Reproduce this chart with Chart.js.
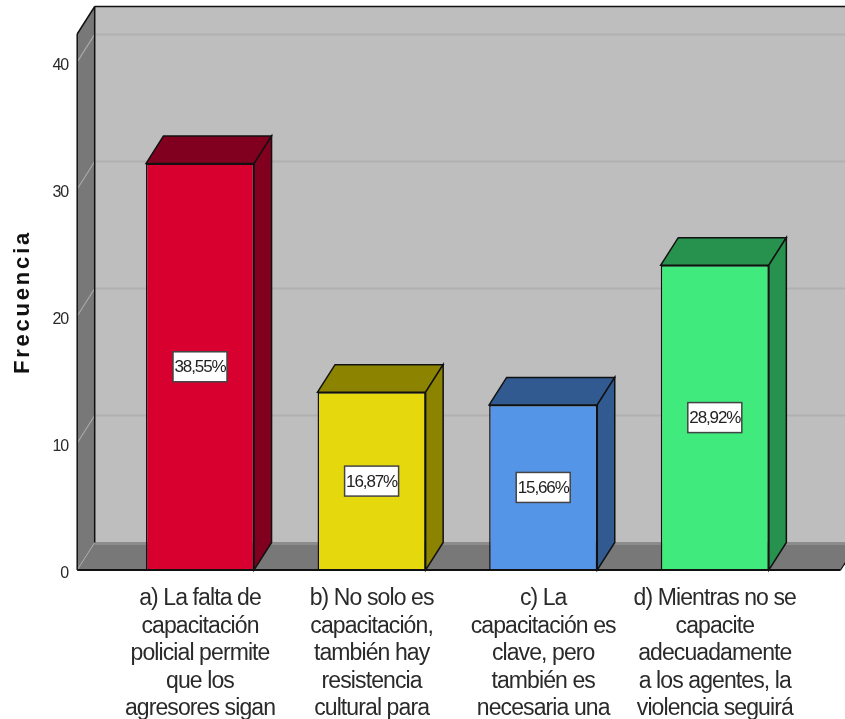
<!DOCTYPE html>
<html><head><meta charset="utf-8">
<style>html,body{margin:0;padding:0;background:#fff}canvas{display:block}</style>
<script src="https://cdn.jsdelivr.net/npm/chart.js@4"></script>
</head><body>
<canvas id="c" width="845" height="719"></canvas>
<script>
const categories = [
  ["a) La falta de","capacitación","policial permite","que los","agresores sigan"],
  ["b) No solo es","capacitación,","también hay","resistencia","cultural para"],
  ["c) La","capacitación es","clave, pero","también es","necesaria una"],
  ["d) Mientras no se","capacite","adecuadamente","a los agentes, la","violencia seguirá"]
];
const frecuencia = [32, 14, 13, 24];
const porcentajes = ["38,55%", "16,87%", "15,66%", "28,92%"];
const frontColors = ["#D7002F", "#E5D90E", "#5595E8", "#41EA7D"];
const depthColors = ["#82001F", "#8C8400", "#305A90", "#27914E"];
const yTicks = [0, 10, 20, 30, 40];
const axisTitle = "Frecuencia";
const DX = 17.5, DY = 27.5;

function poly(ctx, pts, fill, stroke, lw) {
  ctx.beginPath();
  pts.forEach((p, i) => i ? ctx.lineTo(p[0], p[1]) : ctx.moveTo(p[0], p[1]));
  ctx.closePath();
  if (fill) { ctx.fillStyle = fill; ctx.fill(); }
  if (stroke) { ctx.strokeStyle = stroke; ctx.lineWidth = lw || 1.5; ctx.stroke(); }
}
function line(ctx, x1, y1, x2, y2, c, w) {
  ctx.beginPath(); ctx.moveTo(x1, y1); ctx.lineTo(x2, y2);
  ctx.strokeStyle = c; ctx.lineWidth = w; ctx.stroke();
}
function spaced(s, method, spacing, shiftY) {
  const flag = "_sp_" + method;
  if (s[flag]) return;
  s[flag] = true;
  const orig = s[method];
  s[method] = function (...a) {
    this.ctx.save();
    this.ctx.letterSpacing = spacing;
    if (shiftY) this.ctx.translate(0, shiftY);
    orig.apply(this, a);
    this.ctx.restore();
  };
}
const box3d = {
  id: "box3d",
  beforeDatasetsDraw(chart) {
    const ctx = chart.ctx, y = chart.scales.y, x = chart.scales.x;
    const L = x.left - 37, R = x.right + 40, T = y.top, B = y.bottom;
    ctx.save();
    poly(ctx, [[L + DX, T - DY], [chart.width + 30, T - DY], [chart.width + 30, B - DY], [L + DX, B - DY]], "#BEBEBE");
    poly(ctx, [[L, T], [L + DX, T - DY], [L + DX, B - DY], [L, B]], "#787878");
    poly(ctx, [[L, B], [L + DX, B - DY], [R + DX, B - DY], [R, B]], "#787878");
    line(ctx, L + DX, B - DY + 1, chart.width + 30, B - DY + 1, "#8c8c8c", 3);
    yTicks.slice(1).forEach(v => {
      const p = y.getPixelForValue(v);
      line(ctx, L + DX, p - DY, chart.width + 30, p - DY, "#B0B0B0", 2);
      line(ctx, L, p, L + DX, p - DY, "#A8A8A8", 1.2);
    });
    line(ctx, L, B, L + DX, B - DY, "#A8A8A8", 1);
    line(ctx, L, T, L + DX, T - DY, "#111", 1.5);
    line(ctx, L + DX, T - DY, chart.width + 30, T - DY, "#111", 1.5);
    line(ctx, L, T, L, B, "#111", 1.5);
    line(ctx, L + DX, T - DY, L + DX, B - DY, "#111", 1.5);
    line(ctx, R, B, R + DX, B - DY, "#111", 1.2);
    ctx.restore();
  },
  afterDatasetsDraw(chart) {
    const ctx = chart.ctx, meta = chart.getDatasetMeta(0), B = chart.scales.y.bottom;
    ctx.save();
    meta.data.forEach((bar, i) => {
      const l = bar.x - bar.width / 2, r = bar.x + bar.width / 2, t = bar.y;
      poly(ctx, [[l, t], [l + DX, t - DY], [r + DX, t - DY], [r, t]], depthColors[i], "#111", 1.5);
      poly(ctx, [[r, t], [r + DX, t - DY], [r + DX, B - DY], [r, B]], depthColors[i], "#111", 1.5);
      const cy = (t + B) / 2, w = 54, h = 30;
      ctx.fillStyle = "#fff"; ctx.strokeStyle = "#444"; ctx.lineWidth = 1.5;
      ctx.fillRect(bar.x - w / 2, cy - h / 2, w, h);
      ctx.strokeRect(bar.x - w / 2, cy - h / 2, w, h);
      ctx.fillStyle = "#222";
      ctx.font = '17px "Liberation Sans", sans-serif';
      ctx.letterSpacing = "-1.1px";
      ctx.textAlign = "center"; ctx.textBaseline = "middle";
      ctx.fillText(porcentajes[i], bar.x, cy + 1);
      ctx.letterSpacing = "0px";
    });
    line(ctx, chart.scales.x.left - 37, B, chart.scales.x.right + 40, B, "#111", 2);
    ctx.restore();
  }
};
new Chart(document.getElementById("c"), {
  type: "bar",
  data: {
    labels: categories,
    datasets: [{
      data: frecuencia,
      backgroundColor: frontColors,
      borderColor: "#111",
      borderWidth: 1.5,
      categoryPercentage: 1,
      barPercentage: 0.63
    }]
  },
  plugins: [box3d],
  options: {
    responsive: false,
    animation: false,
    layout: { padding: { top: 34, right: 44.4, left: 0, bottom: 0 } },
    plugins: { legend: { display: false }, tooltip: { enabled: false } },
    scales: {
      x: {
        grid: { display: false },
        border: { display: false },
        afterFit(s) {
          s.height = 149;
          s.paddingTop = 0; s.paddingBottom = 0; s.paddingLeft = 0; s.paddingRight = 0;
          spaced(s, "drawLabels", "-0.9px");
        },
        ticks: {
          autoSkip: false, maxRotation: 0, minRotation: 0, padding: 7,
          color: "#2a2a2a",
          font: { family: '"Liberation Sans", sans-serif', size: 23, lineHeight: 1.196 }
        }
      },
      y: {
        min: 0, max: 42.2,
        afterFit(s) {
          s.width = 114.2;
          s.paddingTop = 0; s.paddingBottom = 0;
          spaced(s, "drawTitle", "2.8px");
          spaced(s, "drawLabels", "-1px", 4);
        },
        afterBuildTicks(s) { s.ticks = yTicks.map(v => ({ value: v })); },
        grid: { display: false, drawTicks: false },
        border: { display: false },
        title: {
          display: true, text: axisTitle, color: "#111",
          padding: { top: 10, bottom: 0 },
          font: { family: '"Liberation Sans", sans-serif', size: 22, weight: "bold", lineHeight: 1.2 }
        },
        ticks: {
          padding: 46, color: "#2a2a2a",
          font: { family: '"Liberation Sans", sans-serif', size: 16 }
        }
      }
    }
  }
});
</script>
</body></html>
